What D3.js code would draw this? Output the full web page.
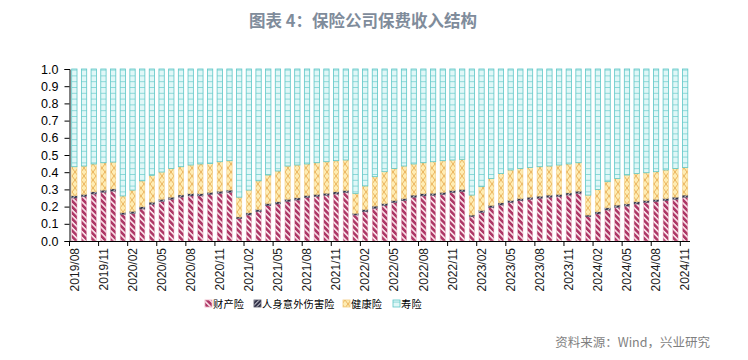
<!DOCTYPE html>
<html><head><meta charset="utf-8">
<script src="https://cdn.jsdelivr.net/npm/d3@7"></script>
<style>body{margin:0;background:#fff}svg{display:block}</style>
</head><body><svg id="c" width="748" height="360"></svg>
<script>
const months = ["2019/08","2019/09","2019/10","2019/11","2019/12","2020/01","2020/02","2020/03","2020/04","2020/05","2020/06","2020/07","2020/08","2020/09","2020/10","2020/11","2020/12","2021/01","2021/02","2021/03","2021/04","2021/05","2021/06","2021/07","2021/08","2021/09","2021/10","2021/11","2021/12","2022/01","2022/02","2022/03","2022/04","2022/05","2022/06","2022/07","2022/08","2022/09","2022/10","2022/11","2022/12","2023/01","2023/02","2023/03","2023/04","2023/05","2023/06","2023/07","2023/08","2023/09","2023/10","2023/11","2023/12","2024/01","2024/02","2024/03","2024/04","2024/05","2024/06","2024/07","2024/08","2024/09","2024/10","2024/11"];
const tickLabels = ["2019/08","2019/11","2020/02","2020/05","2020/08","2020/11","2021/02","2021/05","2021/08","2021/11","2022/02","2022/05","2022/08","2022/11","2023/02","2023/05","2023/08","2023/11","2024/02","2024/05","2024/08","2024/11"];
const seriesNames = ["财产险","人身意外伤害险","健康险","寿险"];
const property = [0.250,0.258,0.273,0.283,0.290,0.155,0.160,0.186,0.213,0.230,0.242,0.255,0.262,0.262,0.270,0.277,0.283,0.130,0.151,0.170,0.205,0.215,0.230,0.238,0.252,0.258,0.265,0.273,0.281,0.151,0.170,0.190,0.205,0.223,0.234,0.254,0.262,0.265,0.270,0.281,0.287,0.141,0.165,0.194,0.209,0.223,0.234,0.242,0.248,0.254,0.258,0.267,0.277,0.141,0.157,0.180,0.196,0.203,0.215,0.223,0.229,0.234,0.242,0.254];
const accident = [0.013,0.013,0.013,0.013,0.013,0.010,0.013,0.013,0.013,0.013,0.013,0.013,0.013,0.013,0.013,0.013,0.013,0.010,0.013,0.013,0.013,0.013,0.013,0.013,0.013,0.013,0.013,0.013,0.013,0.010,0.013,0.013,0.013,0.013,0.013,0.013,0.013,0.013,0.013,0.013,0.013,0.010,0.013,0.013,0.013,0.013,0.013,0.013,0.013,0.013,0.013,0.013,0.013,0.010,0.013,0.013,0.013,0.013,0.013,0.013,0.013,0.013,0.013,0.013];
const health = [0.169,0.165,0.162,0.159,0.156,0.097,0.123,0.151,0.156,0.158,0.167,0.164,0.167,0.173,0.168,0.171,0.171,0.115,0.132,0.167,0.166,0.179,0.193,0.191,0.183,0.184,0.183,0.181,0.177,0.116,0.137,0.171,0.185,0.186,0.189,0.181,0.180,0.183,0.184,0.177,0.175,0.116,0.138,0.157,0.171,0.177,0.175,0.173,0.171,0.169,0.171,0.168,0.165,0.116,0.130,0.152,0.155,0.168,0.165,0.161,0.161,0.166,0.167,0.161];
const life = [0.568,0.564,0.552,0.545,0.541,0.738,0.704,0.650,0.618,0.599,0.578,0.568,0.558,0.552,0.549,0.539,0.533,0.745,0.704,0.650,0.616,0.593,0.564,0.558,0.552,0.545,0.539,0.533,0.529,0.723,0.680,0.626,0.597,0.578,0.564,0.552,0.545,0.539,0.533,0.529,0.525,0.733,0.684,0.636,0.607,0.587,0.578,0.572,0.568,0.564,0.558,0.552,0.545,0.733,0.700,0.655,0.636,0.616,0.607,0.603,0.597,0.587,0.578,0.572];
const yTicks = [0,0.1,0.2,0.3,0.4,0.5,0.6,0.7,0.8,0.9,1.0];

(function(){
const svg = d3.select("#c");
const defs = svg.append("defs");
function stripe(id, bg, fg, w, fw, rot){
  const p = defs.append("pattern").attr("id",id).attr("patternUnits","userSpaceOnUse")
    .attr("width",w).attr("height",w).attr("patternTransform",`rotate(${rot})`);
  p.append("rect").attr("width",w).attr("height",w).attr("fill",bg);
  p.append("rect").attr("width",fw).attr("height",w).attr("fill",fg);
}
stripe("pProp","#fbe6ec","#ad3766",4.2,2.6,-45);
stripe("pAcc","#c8c8d0","#33334a",3,2,45);
(function(){
  const p = defs.append("pattern").attr("id","pHealth").attr("patternUnits","userSpaceOnUse").attr("width",6).attr("height",8);
  p.append("rect").attr("width",6).attr("height",8).attr("fill","#feecb2");
  p.append("path").attr("d","M0,0L6,8M6,0L0,8").attr("stroke","#e4a448").attr("stroke-width",0.8);
})();
(function(){
  const p = defs.append("pattern").attr("id","pLife").attr("patternUnits","userSpaceOnUse").attr("width",10).attr("height",5.8);
  p.append("rect").attr("width",10).attr("height",5.8).attr("fill","#e0f7f7");
  p.append("line").attr("x1",0).attr("x2",10).attr("y1",0.4).attr("y2",0.4).attr("stroke","#6ccccc").attr("stroke-width",0.8);
})();
const fills = ["url(#pProp)","url(#pAcc)","url(#pHealth)","url(#pLife)"];
const strokes = ["#eab0c2","#555566","#f2cc80","#5cc6c6"];

const pl = 69.5, pr = 690, pt = 69, pb = 241;
const x = d3.scaleBand().domain(months).range([pl,pr]).paddingInner(0.45).paddingOuter(0.225);
const y = d3.scaleLinear().domain([0,1]).range([pb,pt]);

const table = months.map((m,i)=>({m, s0:property[i], s1:accident[i], s2:health[i], s3:life[i]}));
const stack = d3.stack().keys(["s0","s1","s2","s3"])(table);

const g = svg.append("g");
stack.forEach((layer,k)=>{
  g.append("g").selectAll("rect").data(layer).join("rect")
    .attr("x", d=>x(d.data.m))
    .attr("width", x.bandwidth())
    .attr("y", d=>y(d[1]))
    .attr("height", d=>y(d[0])-y(d[1]))
    .attr("fill", fills[k])
    .attr("stroke", strokes[k]).attr("stroke-width", k===3?0.8:0.5);
});

const ya = svg.append("g").attr("transform",`translate(${pl},0)`)
  .call(d3.axisLeft(y).tickValues(yTicks).tickFormat(d3.format(".1f")).tickSize(5).tickPadding(6));
ya.select(".domain").attr("stroke","#000");
ya.selectAll("text").attr("font-family","Liberation Sans, Arial, sans-serif").attr("font-size",12.5).attr("fill","#000");

const step = x.step();
const off = -x.bandwidth()/2 - step*x.paddingInner()/2;
const xa = svg.append("g").attr("transform",`translate(0,${pb})`)
  .call(d3.axisBottom(x).tickValues(tickLabels).tickSize(0).tickSizeOuter(0));
xa.select(".domain").attr("d",`M${pl},0.5H${pr}`).attr("stroke","#000");
xa.selectAll(".tick line").remove();
xa.selectAll(".tick").append("line")
  .attr("x1",off).attr("x2",off).attr("y1",0).attr("y2",5).attr("stroke","#000");
xa.selectAll(".tick text")
  .attr("font-family","Liberation Sans, Arial, sans-serif").attr("font-size",12).attr("fill","#1a1a1a")
  .attr("transform","rotate(-90)").attr("text-anchor","end").attr("dy","0.35em")
  .attr("x",-7).attr("y",0);

const legX = [205, 254, 343, 393];
const leg = svg.append("g");
seriesNames.forEach((n,i)=>{
  leg.append("rect").attr("x",legX[i]).attr("y",300).attr("width",7).attr("height",7)
    .attr("fill",fills[i]).attr("stroke",strokes[i]).attr("stroke-width",0.8);
  leg.append("text").attr("x",legX[i]+8).attr("y",308).text(n)
    .attr("font-family","Noto Sans CJK SC, sans-serif").attr("font-size",10.2).attr("fill","#000")
    .attr("letter-spacing",0.2);
});

svg.append("text").attr("x",363).attr("y",27).attr("text-anchor","middle")
  .attr("font-family","Noto Sans CJK SC, sans-serif").attr("font-weight","bold").attr("font-size",16.5)
  .attr("fill","#7f8c9b").text("图表 4：保险公司保费收入结构");
svg.append("text").attr("x",710).attr("y",347).attr("text-anchor","end")
  .attr("font-family","Noto Sans CJK SC, sans-serif").attr("font-size",12.5)
  .attr("fill","#7f7f7f").text("资料来源：Wind，兴业研究");
})();
</script></body></html>
